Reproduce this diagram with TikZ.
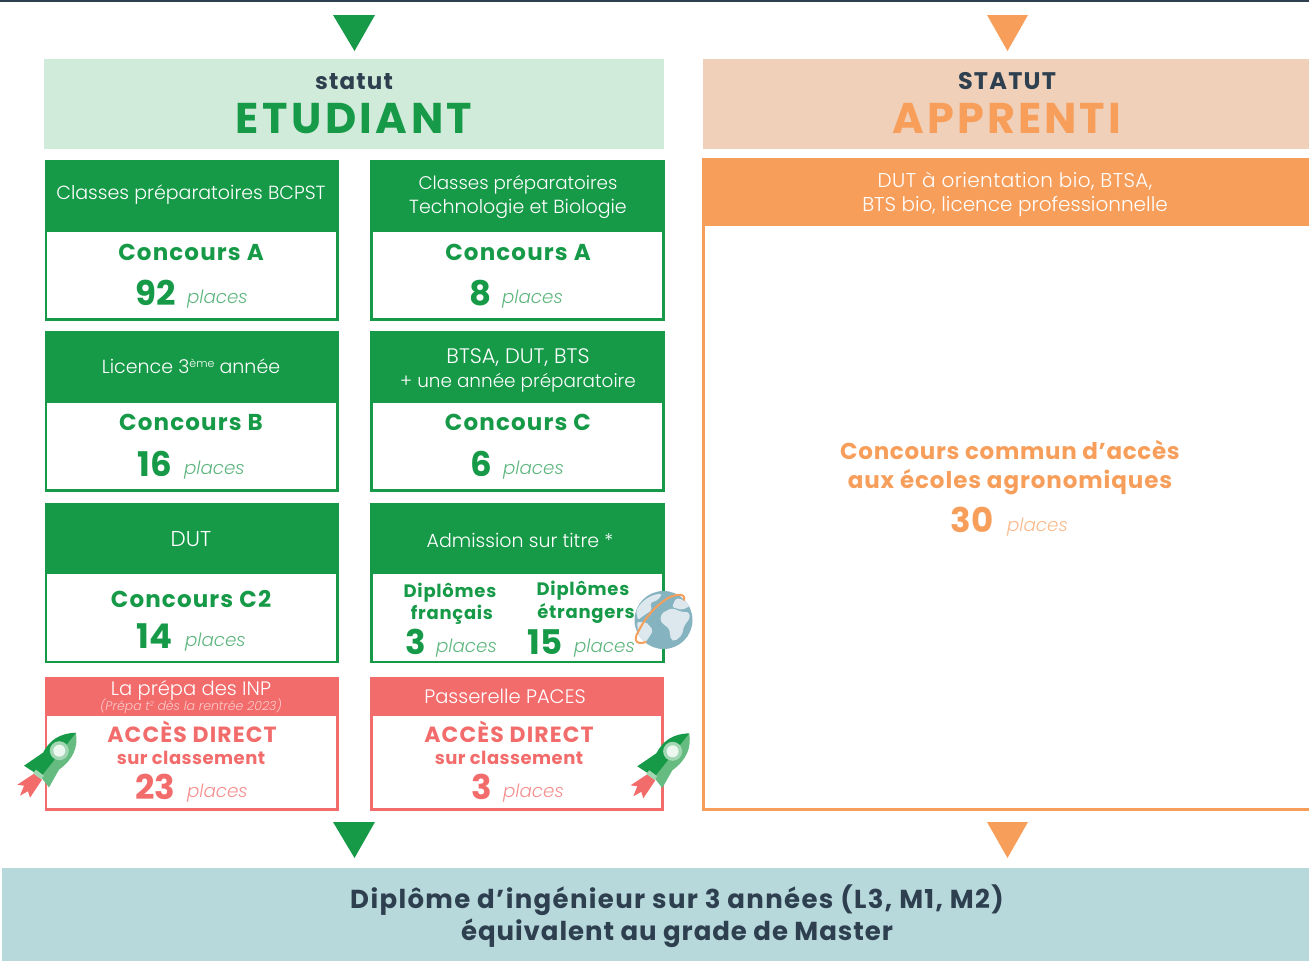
\documentclass[tikz,border=0pt]{standalone}
\usepackage{fontspec}
\setmainfont{Poppins}[UprightFont=* Light,BoldFont=* SemiBold,ItalicFont=* Light Italic,BoldItalicFont=* SemiBold Italic]
\newfontfamily\hvy{Poppins Bold}
\usetikzlibrary{calc}
\definecolor{cgreen}{HTML}{169A48}
\definecolor{clgreen}{HTML}{D1EBDA}
\definecolor{cpeach}{HTML}{F0D0B9}
\definecolor{corange}{HTML}{F79E5B}
\definecolor{cred}{HTML}{F36C6C}
\definecolor{cdark}{HTML}{2E4050}
\definecolor{cteal}{HTML}{B8D9DB}
\definecolor{cglobe}{HTML}{85B3BF}
\definecolor{cland}{HTML}{DDE8EE}
\definecolor{cpgreen}{HTML}{5FB67F}
\definecolor{cporange}{HTML}{FBB98A}
\definecolor{cpred}{HTML}{F58F8F}
\definecolor{crocket}{HTML}{66BC80}
\tikzset{
  txt/.style={anchor=base,inner sep=0pt,outer sep=0pt,align=center},
  head/.style={txt,text=white,font=\fontsize{19}{24}\selectfont},
  conc/.style={txt,font=\hvy\fontsize{23}{28}\selectfont\addfontfeatures{LetterSpace=5}},
  num/.style={txt,font=\hvy\fontsize{34}{36}\selectfont},
  pl/.style={anchor=base west,inner sep=0pt,outer sep=0pt,font=\itshape\fontsize{18.3}{24}\selectfont},
  dipl/.style={txt,text=cgreen,font=\hvy\fontsize{18}{22}\selectfont\addfontfeatures{LetterSpace=4}},
  tri/.style={fill=#1,draw=none},
}
\newcommand{\cardbox}[7]{%
  \draw[#6,line width=2.7pt] (#1+1.4,#3+1.4) rectangle (#2-1.4,#5-1.4);
  \fill[#6] (#1,#3) rectangle (#2,#4);
}
\newcommand{\rocket}[2]{%
\begin{scope}[shift={(#1,#2)}]
  \fill[cred] (-42,41) -- (-58.7,52) -- (-52,53) -- (-56,63) -- (-48,58.5) -- (-46,65) -- (-34,47) -- cycle;
  \fill[crocket] (0,0) .. controls (2,14) and (-2,26) .. (-17,37) -- (-27,54.7) -- (-40,38) -- cycle;
  \fill[cgreen] (0,0) .. controls (-16,0.5) and (-26,7) .. (-33,20) -- (-52,33) -- (-35,44) -- cycle;
  \fill[crocket!60!white] (-43,40.5) -- (-40,37) -- (-32,43) -- (-35,46.5) -- cycle;
  \fill[crocket!60!white] (-16.7,18) circle (9.5);
  \fill[white!92!cgreen] (-16.7,18) circle (6);
\end{scope}}
\begin{document}
\begin{tikzpicture}[x=1pt,y=-1pt]
\useasboundingbox (0,0) rectangle (1309,961);
\fill[cdark] (0,0) rectangle (1309,2);
% triangles
\fill[tri=cgreen] (333,15) -- (375,15) -- (354.5,51) -- cycle;
\fill[tri=corange] (987,15) -- (1028,15) -- (1007.5,51) -- cycle;
\fill[tri=cgreen] (333,822) -- (375,822) -- (354.5,858) -- cycle;
\fill[tri=corange] (987,822) -- (1028,822) -- (1007.5,858) -- cycle;
% status panels
\fill[clgreen] (44,59) rectangle (664,149);
\fill[cpeach] (702.5,59) rectangle (1309,149);
\node[txt,text=cdark,font=\hvy\fontsize{23}{26}\selectfont\addfontfeatures{LetterSpace=5}] (st1) at (354,89) {statut};
\node[txt,text=cgreen,font=\hvy\fontsize{43}{46}\selectfont\addfontfeatures{LetterSpace=8}] (et) at (354,133) {ETUDIANT};
\node[txt,text=cdark,font=\hvy\fontsize{24}{26}\selectfont\addfontfeatures{LetterSpace=5}] (st2) at (1007,89) {STATUT};
\node[txt,text=corange,font=\hvy\fontsize{43}{46}\selectfont\addfontfeatures{LetterSpace=7}] (ap) at (1007,133) {APPRENTI};
% cards
\cardbox{44.5}{338.7}{160.3}{232}{320.8}{cgreen}{c1}
\cardbox{370.3}{664.7}{160.3}{232}{320.8}{cgreen}{c2}
\cardbox{44.5}{338.7}{331}{403}{491.7}{cgreen}{c3}
\cardbox{370.3}{664.7}{331}{403}{491.7}{cgreen}{c4}
\cardbox{44.5}{338.7}{503}{574}{663.5}{cgreen}{c5}
\cardbox{370.3}{664.7}{503}{574}{663.5}{cgreen}{c6}
\cardbox{44.5}{338.7}{676.8}{716}{810.7}{cred}{c7}
\cardbox{370.3}{664}{676.8}{716}{810.7}{cred}{c8}
% orange panel
\draw[corange,line width=2.7pt] (1312,809.3) -- (703.6,809.3) -- (703.6,160);
\fill[corange] (702.2,158) rectangle (1309,226);
% card 1
\node[head] (h1) at (191,199) {Classes préparatoires BCPST};
\node[conc,text=cgreen] (k1) at (191,260) {Concours A};
\node[num,text=cgreen] (n1) at (155.5,305) {92};
\node[pl,text=cpgreen] (p1) at (187,303) {places};
% card 2
\node[head,font=\fontsize{18.3}{24}\selectfont] (h2) at (518,189) {Classes préparatoires};
\node[head] (h2b) at (518,213) {Technologie et Biologie};
\node[conc,text=cgreen] (k2) at (518,260) {Concours A};
\node[num,text=cgreen] (n2) at (481,305) {8};
\node[pl,text=cpgreen] (p2) at (502,303) {places};
% card 3
\node[head] (h3) at (191,373) {Licence 3\raisebox{6pt}{\fontsize{11}{12}\selectfont ème} année};
\node[conc,text=cgreen] (k3) at (191,430) {Concours B};
\node[num,text=cgreen] (n3) at (154.5,476) {16};
\node[pl,text=cpgreen] (p3) at (184,474) {places};
% card 4
\node[head,font=\fontsize{21}{24}\selectfont] (h4) at (518,363) {BTSA, DUT, BTS};
\node[head,font=\fontsize{18.4}{24}\selectfont] (h4b) at (518,387) {+ une année préparatoire};
\node[conc,text=cgreen] (k4) at (518,430) {Concours C};
\node[num,text=cgreen] (n4) at (481,476) {6};
\node[pl,text=cpgreen] (p4) at (503,474) {places};
% card 5
\node[head,font=\fontsize{21.5}{24}\selectfont] (h5) at (191,546) {DUT};
\node[conc,text=cgreen] (k5) at (191,607) {Concours C2};
\node[num,text=cgreen] (n5) at (154.5,648) {14};
\node[pl,text=cpgreen] (p5) at (185,646) {places};
% card 6
\node[head] (h6) at (520,547) {Admission sur titre *};
\node[dipl] (d1) at (450,597) {Diplômes};
\node[dipl] (d2) at (452,619) {français};
\node[dipl] (d3) at (583,595) {Diplômes};
\node[dipl] (d4) at (586,618) {étrangers};
\node[num,text=cgreen] (n6) at (415.5,654) {3};
\node[pl,text=cpgreen] (p6) at (436,652) {places};
\node[num,text=cgreen] (n7) at (545,654) {15};
\node[pl,text=cpgreen] (p7) at (574,652) {places};
% card 7
\node[txt,text=white,font=\fontsize{19.5}{22}\selectfont] (h7) at (191,695) {La prépa des INP};
\node[txt,text=white!65!cred,font=\itshape\fontsize{12.5}{14}\selectfont] (h7b) at (191,710) {(Prépa t\raisebox{4pt}{\fontsize{7}{8}\selectfont 2} dès la rentrée 2023)};
\node[txt,text=cred,font=\hvy\fontsize{22}{26}\selectfont\addfontfeatures{LetterSpace=5}] (a1) at (192,742) {ACCÈS DIRECT};
\node[txt,text=cred,font=\hvy\fontsize{18}{22}\selectfont\addfontfeatures{LetterSpace=2.5}] (s1) at (191,764) {sur classement};
\node[num,text=cred] (n8) at (155.5,799) {23};
\node[pl,text=cpred] (p8) at (187,797) {places};
% card 8
\node[txt,text=white,font=\fontsize{19.5}{22}\selectfont] (h8) at (505,703) {Passerelle PACES};
\node[txt,text=cred,font=\hvy\fontsize{22}{26}\selectfont\addfontfeatures{LetterSpace=5}] (a2) at (509,742) {ACCÈS DIRECT};
\node[txt,text=cred,font=\hvy\fontsize{18}{22}\selectfont\addfontfeatures{LetterSpace=2.5}] (s2) at (509,764) {sur classement};
\node[num,text=cred] (n9) at (482,799) {3};
\node[pl,text=cpred] (p9) at (503,797) {places};
% orange text
\node[head,font=\fontsize{20}{24}\selectfont\addfontfeatures{LetterSpace=2}] (h9) at (1015,187) {DUT à orientation bio, BTSA,};
\node[head,font=\fontsize{20}{24}\selectfont] (h9b) at (1015,211) {BTS bio, licence professionnelle};
\node[txt,text=corange,font=\hvy\fontsize{23}{28}\selectfont\addfontfeatures{LetterSpace=3}] (o1) at (1010,459) {Concours commun d’accès};
\node[txt,text=corange,font=\hvy\fontsize{23}{28}\selectfont\addfontfeatures{LetterSpace=4}] (o2) at (1010,488) {aux écoles agronomiques};
\node[num,text=corange] (n10) at (972,532) {30};
\node[pl,text=cporange] (p10) at (1007,531) {places};
% bottom band
\fill[cteal] (2,868) rectangle (1309,961);
\node[txt,text=cdark,font=\hvy\fontsize{26}{30}\selectfont\addfontfeatures{LetterSpace=5.2}] (b1) at (677,908) {Diplôme d’ingénieur sur 3 années (L3, M1, M2)};
\node[txt,text=cdark,font=\hvy\fontsize{26}{30}\selectfont\addfontfeatures{LetterSpace=3.6}] (b2) at (677,940) {équivalent au grade de Master};
% rockets
\rocket{76}{732.7}
\rocket{689.3}{733.3}
% globe
\begin{scope}
  \fill[cglobe] (663.5,620) circle (29);
  \clip (663.5,620) circle (29);
  \fill[cland,rounded corners=2pt] (636,611) .. controls (642,600) and (652,594) .. (662,594) -- (658,600) -- (650,603) -- (652,610) -- (643,616) -- (638,620) -- cycle;
  \fill[cland,rounded corners=2pt] (662,613) -- (672,608) -- (682,612) -- (689,612) -- (690,618) -- (684,626) -- (682,635) -- (675,641) -- (671,640) -- (669,628) -- (664,625) -- (660,620) -- cycle;
  \fill[cland,rounded corners=2pt] (672,607) -- (676,598) -- (684,600) -- (690,606) -- (682,610) -- cycle;
  \fill[cland,rounded corners=2pt] (637,622) -- (646,622) -- (653,630) -- (650,636) -- (644,644) -- (640,643) -- (638,632) -- cycle;
\end{scope}
\draw[corange,line width=2pt,line cap=round] (684,600) .. controls (686,594) and (678,593) .. (668,598) .. controls (655,606) and (645,618) .. (638,632) .. controls (633,641) and (637,645) .. (646,642);
\end{tikzpicture}
\end{document}
